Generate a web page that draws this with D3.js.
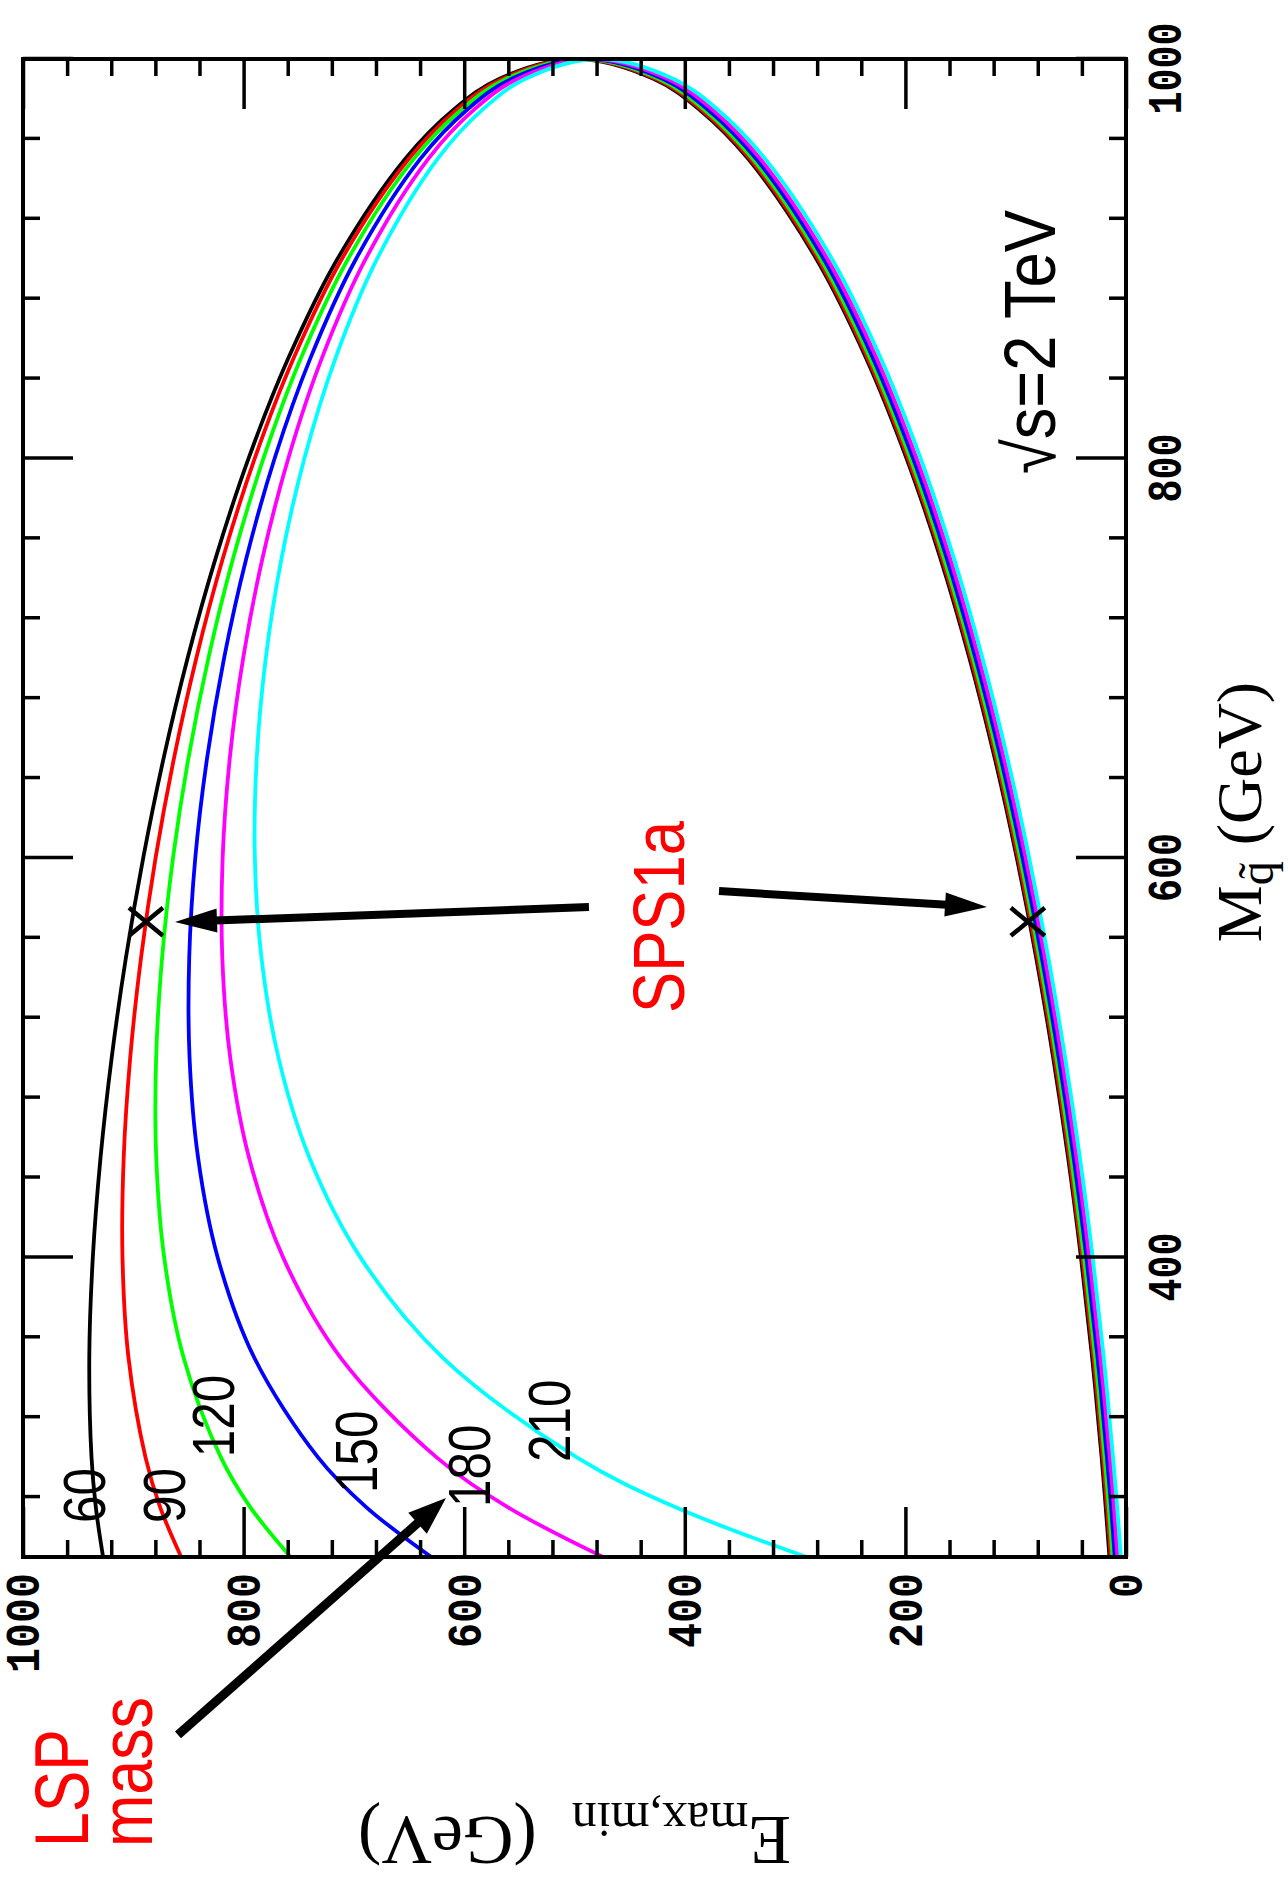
<!DOCTYPE html>
<html>
<head>
<meta charset="utf-8">
<script src="https://cdn.jsdelivr.net/npm/d3@7"></script>
<style>
  body { margin: 0; background: #fff; }
</style>
</head>
<body>
<svg id="chart" width="1288" height="1880"></svg>
<script>
// squark mass grid (GeV) the curves were read at
const squarkMass = [250, 275, 300, 350, 400, 450, 500, 550, 600, 650, 700, 750, 800, 850, 900, 950, 975, 990, 1000];

// LSP masses, one closed curve each
const lspMasses = [60, 90, 120, 150, 180, 210];

// upper branch E_max (GeV)
const eMax60  = [927.4, 934.0, 937.9, 939.9, 936.7, 929.7, 919.6, 906.7, 891.0, 872.5, 850.8, 825.4, 795.5, 759.6, 714.8, 653.5, 608.8, 568.4, 498.2];
const eMax90  = [856.6, 875.7, 889.0, 904.4, 909.8, 908.7, 902.8, 893.0, 879.8, 863.1, 842.9, 818.8, 789.9, 754.8, 710.8, 650.2, 605.9, 565.8, 496.0];
const eMax120 = [757.4, 794.0, 820.7, 854.5, 872.0, 879.2, 879.3, 873.9, 864.0, 850.0, 831.9, 809.5, 782.0, 748.2, 705.2, 645.7, 601.8, 562.1, 492.8];
const eMax150 = [629.8, 688.9, 732.7, 790.5, 823.5, 841.3, 849.0, 849.3, 843.8, 833.1, 817.7, 797.5, 771.9, 739.6, 698.0, 639.8, 596.6, 557.4, 488.8];
const eMax180 = [474.0, 560.6, 625.3, 712.3, 764.2, 795.1, 812.1, 819.3, 819.0, 812.5, 800.4, 782.9, 759.5, 729.2, 689.2, 632.6, 590.3, 551.7, 483.8];
const eMax210 = [289.7, 408.8, 498.3, 619.8, 694.1, 740.4, 768.4, 783.8, 789.8, 788.1, 779.9, 765.6, 744.9, 716.8, 678.9, 624.1, 582.7, 544.9, 478.0];

// lower branch E_min (GeV)
const eMin60  = [15.0, 18.4, 22.1, 30.7, 40.8, 52.5, 66.0, 81.4, 99.0, 119.0, 141.9, 168.2, 198.9, 235.4, 280.8, 342.5, 387.4, 427.9, 498.2];
const eMin90  = [13.8, 17.2, 21.0, 29.5, 39.6, 51.4, 64.8, 80.2, 97.8, 117.7, 140.6, 166.8, 197.5, 234.0, 279.2, 340.8, 385.6, 425.9, 496.0];
const eMin120 = [12.2, 15.6, 19.4, 27.9, 38.0, 49.7, 63.1, 78.5, 96.0, 115.9, 138.7, 165.0, 195.5, 231.9, 277.0, 338.4, 383.0, 423.2, 492.8];
const eMin150 = [10.2, 13.5, 17.3, 25.8, 35.9, 47.5, 61.0, 76.3, 93.8, 113.6, 136.4, 162.5, 193.0, 229.2, 274.2, 335.3, 379.7, 419.6, 488.8];
const eMin180 = [7.7, 11.0, 14.7, 23.3, 33.3, 44.9, 58.3, 73.6, 91.0, 110.8, 133.5, 159.5, 189.9, 226.0, 270.8, 331.5, 375.6, 415.3, 483.8];
const eMin210 = [4.7, 8.0, 11.8, 20.2, 30.2, 41.8, 55.2, 70.4, 87.8, 107.5, 130.1, 156.0, 186.2, 222.2, 266.7, 327.1, 370.9, 410.1, 478.0];

// SPS1a benchmark point: squark mass, E_max, E_min
const sps1aMass = 568;
const sps1aE = [888.5, 89];

// axis ticks
const xMajorTicks = [400, 600, 800, 1000];
const yMajorTicks = [0, 200, 400, 600, 800, 1000];

const eMaxSeries = [eMax60, eMax90, eMax120, eMax150, eMax180, eMax210];
const eMinSeries = [eMin60, eMin90, eMin120, eMin150, eMin180, eMin210];
const curveColors = ["#000000", "#ff0000", "#00ff00", "#0000ff", "#ff00ff", "#00ffff"];

// the whole plot is drawn turned a quarter turn counter-clockwise
const W = 1498, H = 1103;
const svg = d3.select("#chart");
const g = svg.append("g").attr("transform", "translate(23,1557) rotate(-90)");

const x = d3.scaleLinear().domain([250, 1000]).range([0, W]);
const y = d3.scaleLinear().domain([0, 1000]).range([H, 0]);

const sans = "'Liberation Sans', Arial, sans-serif";
const serif = "'Liberation Serif', 'Times New Roman', serif";
const mono = "'Liberation Mono', 'Courier New', monospace";

// curves: E_max going out, E_min coming back
const line = d3.line()
  .x(d => x(d[0]))
  .y(d => y(d[1]))
  .curve(d3.curveCatmullRom.alpha(0.5));

eMaxSeries.forEach((mx, i) => {
  const upper = squarkMass.map((m, j) => [m, mx[j]]);
  const lower = squarkMass.map((m, j) => [m, eMinSeries[i][j]]).reverse().slice(1);
  g.append("path")
    .attr("d", line(upper.concat(lower)))
    .attr("fill", "none")
    .attr("stroke", curveColors[i])
    .attr("stroke-width", 3.8)
    .attr("stroke-linejoin", "round");
});

// ticks on all four sides, pointing in
const xMinor = d3.range(280, 1000, 40).filter(v => v % 200 !== 0);
const yMinor = d3.range(40, 1000, 40).filter(v => v % 200 !== 0);

function styleAxis(sel) {
  sel.select(".domain").remove();
  sel.selectAll(".tick line").attr("stroke", "#000").attr("stroke-width", 3.5);
}

g.append("g").attr("transform", "translate(0," + H + ")")
  .call(d3.axisBottom(x).tickValues(xMinor).tickSize(-17).tickFormat(""))
  .call(styleAxis);
const xAxis = g.append("g").attr("transform", "translate(0," + H + ")")
  .call(d3.axisBottom(x).tickValues(xMajorTicks).tickSize(-50).tickFormat(d3.format("d")))
  .call(styleAxis);
g.append("g")
  .call(d3.axisTop(x).tickValues(xMinor).tickSize(-17).tickFormat(""))
  .call(styleAxis);
g.append("g")
  .call(d3.axisTop(x).tickValues(xMajorTicks).tickSize(-50).tickFormat(""))
  .call(styleAxis);

g.append("g")
  .call(d3.axisLeft(y).tickValues(yMinor).tickSize(-17).tickFormat(""))
  .call(styleAxis);
const yAxis = g.append("g")
  .call(d3.axisLeft(y).tickValues(yMajorTicks).tickSize(-50).tickFormat(d3.format("d")))
  .call(styleAxis);
g.append("g").attr("transform", "translate(" + W + ",0)")
  .call(d3.axisRight(y).tickValues(yMinor).tickSize(-17).tickFormat(""))
  .call(styleAxis);
g.append("g").attr("transform", "translate(" + W + ",0)")
  .call(d3.axisRight(y).tickValues(yMajorTicks).tickSize(-50).tickFormat(""))
  .call(styleAxis);

xAxis.selectAll("text")
  .attr("y", 55).attr("dy", null).attr("dx", -10)
  .attr("font-family", mono).attr("font-size", 48).attr("font-weight", "bold")
  .attr("fill", "#000")
  .attr("textLength", d => String(d).length * 23)
  .attr("lengthAdjust", "spacingAndGlyphs");

yAxis.selectAll("text")
  .attr("x", -16).attr("dy", "0.33em")
  .attr("font-family", mono).attr("font-size", 48).attr("font-weight", "bold")
  .attr("fill", "#000")
  .attr("textLength", d => String(d).length * 25)
  .attr("lengthAdjust", "spacingAndGlyphs");

// frame
g.append("rect")
  .attr("x", 0).attr("y", 0).attr("width", W).attr("height", H)
  .attr("fill", "none").attr("stroke", "#000").attr("stroke-width", 4);

// axis titles
const xTitle = g.append("text")
  .attr("x", W / 2 - 4).attr("y", H + 135)
  .attr("text-anchor", "middle")
  .attr("font-family", serif).attr("font-size", 64).attr("fill", "#000");
xTitle.append("tspan").text("M");
xTitle.append("tspan").attr("font-size", 48).attr("dy", 12).text("q\u0303");
xTitle.append("tspan").attr("dy", -12).text("\u00a0(GeV)");

const yTitle = g.append("text")
  .attr("transform", "translate(-260," + (H / 2) + ") rotate(-90)")
  .attr("text-anchor", "middle")
  .attr("font-family", serif).attr("font-size", 70).attr("fill", "#000");
yTitle.append("tspan").text("E");
yTitle.append("tspan").attr("font-size", 50).attr("dy", 14).text("max,min");
yTitle.append("tspan").attr("dy", -14).text("\u00a0\u00a0(GeV)");

// curve labels: start and baseline given as [M, E]
const curveLabelPos = [[267, 925.7], [267, 853.1], [300, 808.7], [282, 679.1], [275, 576.6], [297.6, 504.1]];
lspMasses.forEach((m, i) => {
  const s = String(m);
  g.append("text")
    .attr("x", x(curveLabelPos[i][0])).attr("y", y(curveLabelPos[i][1]))
    .attr("font-family", sans).attr("font-size", 60).attr("fill", "#000")
    .attr("textLength", s.length * 27.5).attr("lengthAdjust", "spacingAndGlyphs")
    .text(s);
});

// free text
function note(str, pos, size, len, color) {
  return g.append("text")
    .attr("x", x(pos[0])).attr("y", y(pos[1]))
    .attr("font-family", sans).attr("font-size", size).attr("fill", color)
    .attr("textLength", len).attr("lengthAdjust", "spacingAndGlyphs")
    .text(str);
}
note("\u221As=2 TeV", [792.2, 64.4], 72, 264, "#000");
note("SPS1a", [522.4, 400.7], 72, 192, "#ff0000");
note("LSP", [104.8, 941], 76, 118, "#ff0000");
note("mass", [104.8, 883], 74, 150, "#ff0000");

// arrows
function arrow(from, to, width, headLen, headW) {
  const x1 = x(from[0]), y1 = y(from[1]), x2 = x(to[0]), y2 = y(to[1]);
  const L = Math.hypot(x2 - x1, y2 - y1), ux = (x2 - x1) / L, uy = (y2 - y1) / L;
  const bx = x2 - ux * headLen, by = y2 - uy * headLen;
  g.append("line")
    .attr("x1", x1).attr("y1", y1).attr("x2", bx + ux * 2).attr("y2", by + uy * 2)
    .attr("stroke", "#000").attr("stroke-width", width);
  g.append("path")
    .attr("d", `M${x2},${y2}L${bx - uy * headW / 2},${by + ux * headW / 2}L${bx + uy * headW / 2},${by - ux * headW / 2}Z`)
    .attr("fill", "#000");
}
arrow([575.4, 486.9], [567.9, 862.2], 8, 42, 24);
arrow([583.4, 369.0], [575.4, 126.0], 8, 42, 24);
arrow([160.9, 859.5], [279.5, 616.5], 9, 38, 28);

// SPS1a crosses
sps1aE.forEach(e => {
  const cx = x(sps1aMass), cy = y(e);
  g.append("path")
    .attr("d", `M${cx - 14},${cy - 17}L${cx + 14},${cy + 17}M${cx - 14},${cy + 17}L${cx + 14},${cy - 17}`)
    .attr("stroke", "#000").attr("stroke-width", 4.5).attr("fill", "none");
});
</script>
</body>
</html>
